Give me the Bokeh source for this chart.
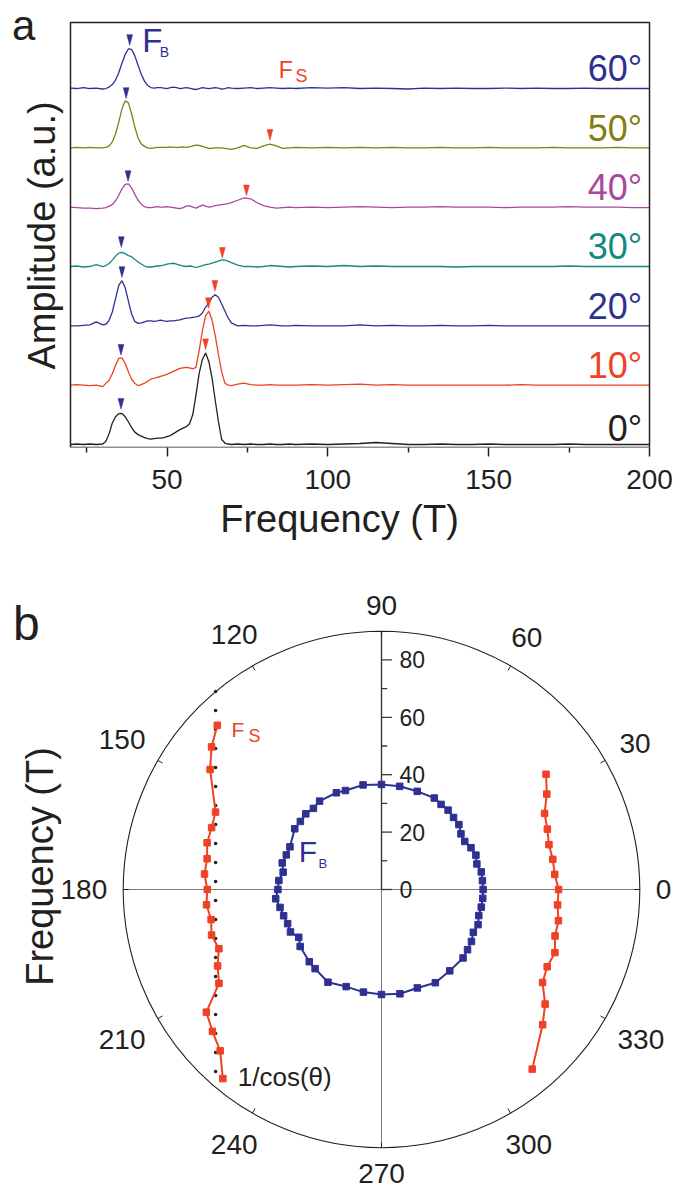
import math
from bokeh.plotting import figure
from bokeh.models import Range1d, FixedTicker, Label
from bokeh.layouts import column
from bokeh.embed import file_html
from bokeh.resources import INLINE

FONT = "Liberation Sans"
INK = "#231F20"
BLUE = "#2E3192"
RED = "#EF4123"

# ---------------- panel a data ----------------
FREQ = [20, 22, 24, 26, 28,
        30, 31, 32, 33, 34, 35, 36, 37, 38, 39,
        40, 41, 42, 43, 44, 45, 46, 47, 48, 49,
        50, 51, 52, 53, 54, 55, 56, 57, 58, 59,
        60, 61, 62, 63, 64, 65, 66, 67, 68, 69, 70,
        72, 74, 76, 78, 80, 82, 84, 86, 88, 90,
        95, 100, 105, 110, 115, 120, 125, 130, 135, 140, 145, 150, 155, 160, 165,
        170, 175, 180, 185, 190, 195, 200]

ANGLES_A = [0, 10, 20, 30, 40, 50, 60]
ANGLE_LABELS = ["0°", "10°", "20°", "30°", "40°", "50°", "60°"]

AMP_0 = [0, 0.5, 0, 0.5, 0,
         0.5, 3, 11, 21.7, 28, 31.2, 31.5, 28, 23, 17,
         12.5, 10, 8.5, 7, 6, 5.5, 6, 6.5, 6.5, 7,
         8, 9, 11, 13, 15, 16.5, 18, 21, 30, 50,
         72, 86, 92.5, 84, 67.5, 44.5, 23, 5, 1.5, 0.5, 0,
         0.5, 0, 0.5, 0, 0, 0.5, 0, 0, 0.5, 0,
         0.5, 0, 0.5, 1, 2, 1, 0, 0, 0.5, 0, 0, 0.5, 0, 0, 0, 0, 0.5, 0, 0, 0, 0, 0]
AMP_10 = [0, 0.5, 0, -0.5, 0,
          -1.5, 1.8, 5, 11.5, 20, 27, 27.7, 22, 13.5, 6,
          2, -0.5, 0.5, 2, 4, 6, 7, 8, 9, 10,
          11, 12.5, 14, 15.5, 17, 17.5, 18, 17.5, 16.5, 18,
          35, 55, 70, 75, 66, 50, 31, 13.5, 2, 0, -0.5,
          1, 2, 0.5, 0, 0, 0.5, 0, 0, 0, 0,
          0.5, 0, 0.5, 1, 0, 0.5, 0, 0, 0, 0, 0, 0, 0, 0.5, 0, 0, 0, 0, 0, 0, 0, 0]
AMP_20 = [0, 0, 0.5, 1, 4,
          1, 1.6, 5.6, 14, 27.5, 41, 45.7, 38.5, 25, 12,
          4.5, 2.5, 3, 4, 5, 5, 4.5, 5, 5.7, 5,
          4.5, 5, 5, 5.5, 6, 7, 7.7, 8, 8.5, 9,
          10, 13, 19, 23, 29, 31.5, 29, 22, 15, 8, 3,
          0, 0.5, 0, 0, 0.5, 1, 0.5, 0, 0, 0.5,
          0, 0, 0, 1, 0, 0.5, 0, 0, 0.5, 0, 0, 0.5, 0, 0, 0, 0, 0, 0, 0, 0, 0, 0]
AMP_30 = [0, 0.5, -0.5, 0, 2,
          0, 1, 3, 6.5, 10.5, 13.5, 14.3, 13, 11, 10,
          7, 4.5, 2.5, 0.5, -0.5, -0.5, 0, 0.5, 1, 1.5,
          2.5, 3, 3.3, 2.5, 1.5, 0.5, 0, 0.5, 0, -1,
          0, 1, 2, 2.5, 3.5, 4.5, 5.5, 6.7, 6.5, 5.5, 4,
          1.5, 0, 0, -0.5, 0, 1, 0.5, 0, -0.5, 0,
          0.5, 0, 1, 0, 0.5, 0, 0, 0, 0, -0.5, 0, 0, 0, 0, 0, 0, 0.5, 0, 0, 0, 0, 0]
AMP_40 = [0, -0.5, -1, -1, -1.5,
          -1, -0.5, 1, 2.5, 6.5, 12, 18.5, 23, 23.5, 19.5,
          13, 7, 3, 0.5, -0.5, -0.5, 0, 0.5, 0, 0,
          0.5, 0, -0.5, -1, -1.5, -0.5, 1, 1.5, 0, -1,
          0.5, 2, 1, 0, 0.5, 1.5, 2, 2.5, 3, 3.5, 4.5,
          7, 9.5, 8.5, 4.5, 1.5, 0, -1, -0.5, 0, -0.5,
          0, -0.5, 0, 0.5, 0, -0.5, 0, 0, 0.5, 0, 0, 0, -0.5, 0, 0, 0, 0.5, 0, 0, 0, -0.5, -0.5]
AMP_50 = [0, 0.5, 0, 0.5, 0,
          0, 0.5, 2, 6, 14, 26, 39.5, 47.5, 45.5, 34.5,
          21, 10, 4, 1.5, 0, -0.5, 0, 0.5, 0.5, 0.5,
          0.5, 1, 0.5, 0.5, 0.5, 1, 0.5, 1, 2, 2.7,
          2.5, 1.5, 0.5, -0.5, -0.5, 0, 0, 0, -0.5, -1, -1.5,
          0, 2.5, 0, -0.5, 2, 3.7, 2, -0.5, 0, 0.5,
          0, 0.5, 0, 0.5, 0, 0.5, 0, 0, 0.5, 0, 0, 0.5, 0, 0, 0, 0.5, 0, 0, 0, 0.5, 0, 0]
AMP_60 = [0.5, 0, 1, 0, 0.5,
          -0.5, 0, 1.5, 4, 8.5, 16, 25.5, 34.5, 40, 39.5,
          33, 23.5, 14.5, 7.5, 3, 1, 0.5, 1, 1, 0.5,
          0, 1, 1.5, 1, 0, 0.5, 1, 0.5, -0.5, -1,
          0, 1, 0.5, 0, 0.5, 1, 0.5, -0.5, 0, 1, 0.5,
          0, 0.5, 1, 0, 0.5, 1, 0.5, 0, 0.5, 0,
          1, 0.5, 1, 0, 0.5, 0, -0.5, 0.5, 0, 0.5, 0, 0, 0.5, 0, 0.5, 0, 0, 0.5, 0, 0, 0, 0]
AMPS = [AMP_0, AMP_10, AMP_20, AMP_30, AMP_40, AMP_50, AMP_60]
SPACING = 60  # a.u. offset between stacked spectra

FB_ARROW_FREQ = [35.7, 35.7, 36.0, 35.8, 37.9, 37.3, 38.4]
FB_ARROW_AMP = [35.6, 30.3, 49.0, 19.3, 26.0, 50.0, 43.7]
FS_ARROW_FREQ = [62.0, 62.9, 64.9, 67.2, 74.7, 82.0]   # 0..50 deg
FS_ARROW_AMP = [96.0, 77.6, 35.0, 8.5, 11.6, 7.7]

CURVE_COLORS = [INK, RED, BLUE, "#14897F", "#A8479F", "#7F7F14", BLUE]

X_MIN, X_MAX = 20, 200
X_TICKS = [50, 100, 150, 200]
X_MINOR = [25, 75, 125, 175]

# ---------------- panel b data ----------------
FB_ANGLE = [0, 5, 10, 15, 20, 25, 30, 35, 40, 45, 50, 55, 60, 70, 80, 90,
            100, 110, 115, 125, 130, 135, 140, 145, 155, 160, 165, 170, 175, 180,
            185, 190, 195, 200, 205, 210, 215, 225, 230, 240, 250, 260, 270,
            280, 290, 300, 310, 320, 325, 330, 335, 340, 345, 350, 355]
FB_FREQ = [35.4, 35.3, 35.3, 34.4, 35.0, 34.4, 33.5, 33.8, 35.2, 35.5, 36.1, 36.2, 36.8, 36.4, 36.5, 36.6,
           37.0, 36.7, 37.2, 37.6, 36.9, 37.3, 36.9, 36.9, 35.2, 35.3, 35.8, 34.8, 35.9, 36.1,
           37.0, 35.9, 35.3, 34.8, 35.0, 33.3, 34.6, 35.6, 36.0, 37.3, 36.0, 36.3, 36.6,
           36.9, 36.5, 37.5, 37.0, 37.1, 36.6, 36.2, 35.3, 35.8, 35.1, 35.3, 35.4]

FS_RIGHT_ANGLE = [35, 30, 25, 20, 15, 10, 5, 0, -5, -10, -15, -20, -25, -30, -35, -40, -50]
FS_RIGHT_FREQ = [70.0, 66.5, 62.7, 61.5, 60.4, 60.6, 60.6, 61.7, 61.6, 62.6, 62.6, 64.3, 63.7, 64.8, 69.6, 73.3, 81.7]
FS_LEFT_ANGLE = [135, 140, 145, 155, 160, 165, 170, 175, 180, 185, 190, 195, 200, 205, 210, 215, 220, 225, 230]
FS_LEFT_FREQ = [80.9, 77.3, 72.9, 63.8, 63.0, 62.9, 61.7, 61.9, 60.7, 61.2, 60.3, 61.3, 60.3, 63.0, 65.4, 74.5, 76.9, 79.5, 86.0]

COS_F0 = 57.8          # 1/cos(theta) reference frequency
R_MAX = 90
RAD_MAJOR = [0, 20, 40, 60, 80]
RAD_MINOR = [10, 30, 50, 70]
ANG_TICKS = [0, 30, 60, 90, 120, 150, 180, 210, 240, 270, 300, 330]

# ================= panel a =================
W = 678
HA = 560
PX_T = 579 / 180.0        # pixels per tesla
PX_AU = 59.33 / 60.0      # pixels per a.u.
BASE_PX = 444             # page y of the 0 deg baseline


def ax(px):
    return X_MIN + (px - 70) / PX_T


def ay(py):
    return (BASE_PX - py) / PX_AU


pa = figure(width=W, height=HA, x_range=Range1d(ax(0), ax(W)), y_range=Range1d(ay(447), ay(0)),
            output_backend="svg", toolbar_location=None, y_axis_location=None,
            min_border_left=0, min_border_right=0, min_border_top=0, min_border_bottom=HA - 447)
pa.grid.visible = False
pa.outline_line_color = None

for i, ang in enumerate(ANGLES_A):
    off = i * SPACING
    pa.line(FREQ, [a + off for a in AMPS[i]], line_color=CURVE_COLORS[i], line_width=1.3)
    lift = 16.5 if ang == 0 else 19.8
    pa.add_layout(Label(x=ax(641.7), y=off + lift / PX_AU, text=ANGLE_LABELS[i], text_align="right",
                        text_baseline="middle", text_font=FONT, text_font_size="36px",
                        text_color=CURVE_COLORS[i]))

# frame box
pa.quad(left=[X_MIN], right=[X_MAX], bottom=[ay(447)], top=[ay(22)], fill_color=None,
        line_color="#222222", line_width=1.5)

HW, AH = 0.9, 10.8
fbx = [[f - HW, f + HW, f] for f in FB_ARROW_FREQ]
fby = [[a + i * SPACING + AH, a + i * SPACING + AH, a + i * SPACING] for i, a in enumerate(FB_ARROW_AMP)]
pa.patches(fbx, fby, fill_color=BLUE, line_color=BLUE, line_width=0.5)
fsx = [[f - HW, f + HW, f] for f in FS_ARROW_FREQ]
fsy = [[a + i * SPACING + AH, a + i * SPACING + AH, a + i * SPACING] for i, a in enumerate(FS_ARROW_AMP)]
pa.patches(fsx, fsy, fill_color=RED, line_color=RED, line_width=0.5)


def lab_a(px, py, text, size, color, **kw):
    pa.add_layout(Label(x=ax(px), y=ay(py), text=text, text_font=FONT, text_font_size=size,
                        text_color=color, text_baseline="middle", **kw))


lab_a(141.7, 40.3, "F", "33px", BLUE)
lab_a(159.3, 51.0, "B", "14px", BLUE)
lab_a(278.3, 69.3, "F", "23px", RED)
lab_a(295.0, 75.8, "S", "18px", RED)
lab_a(11.5, 25.0, "a", "42px", INK)
lab_a(41.5, 235.0, "Amplitude (a.u.)", "38px", INK, angle=math.pi / 2, text_align="center")

xa = pa.xaxis[0]
xa.ticker = FixedTicker(ticks=X_TICKS, minor_ticks=X_MINOR)
xa.axis_line_color = None
xa.major_tick_in = 0
xa.major_tick_out = 9
xa.minor_tick_in = 0
xa.minor_tick_out = 5
xa.major_tick_line_width = 1.5
xa.minor_tick_line_width = 1.5
xa.major_tick_line_color = "#222222"
xa.minor_tick_line_color = "#222222"
xa.major_label_text_font = FONT
xa.major_label_text_font_size = "28px"
xa.major_label_text_color = INK
xa.major_label_standoff = 13
xa.axis_label = "Frequency (T)"
xa.axis_label_text_font = FONT
xa.axis_label_text_font_size = "38px"
xa.axis_label_text_font_style = "normal"
xa.axis_label_text_color = INK
xa.axis_label_standoff = 6

# ================= panel b =================
PXU = 2.87
HB = 1192 - HA
CX, CY = 381, 889      # page coordinates of the polar centre


def bx(px):
    return (px - CX) / PXU


def by(py):
    return (CY - py) / PXU


pb = figure(width=W, height=HB, x_range=Range1d(bx(0), bx(W)), y_range=Range1d(by(1192), by(HA)),
            output_backend="svg", toolbar_location=None, min_border=0,
            x_axis_location=None, y_axis_location=None)
pb.outline_line_color = None
pb.grid.visible = False

pb.circle(x=[0], y=[0], radius=R_MAX, fill_color=None, line_color=INK, line_width=1.1)
pb.segment(x0=[-R_MAX, 0], y0=[0, -R_MAX], x1=[R_MAX, 0], y1=[0, 0], line_color="#7a7a7a", line_width=1)
pb.segment(x0=[0], y0=[0], x1=[0], y1=[R_MAX], line_color="#3a3a3a", line_width=1.4)
pb.segment(x0=[0] * len(RAD_MAJOR), y0=RAD_MAJOR, x1=[3.7] * len(RAD_MAJOR), y1=RAD_MAJOR,
           line_color="#3a3a3a", line_width=1.3)
pb.segment(x0=[0] * len(RAD_MINOR), y0=RAD_MINOR, x1=[2.0] * len(RAD_MINOR), y1=RAD_MINOR,
           line_color="#3a3a3a", line_width=1.3)
for r in RAD_MAJOR:
    pb.add_layout(Label(x=6.3, y=r, text=str(r), text_align="left", text_baseline="middle",
                        text_font=FONT, text_font_size="23px", text_color=INK))

tx0, ty0, tx1, ty1 = [], [], [], []
for a in ANG_TICKS:
    c, s = math.cos(math.radians(a)), math.sin(math.radians(a))
    tx0.append(R_MAX * c); ty0.append(R_MAX * s)
    tx1.append((R_MAX - 1.9) * c); ty1.append((R_MAX - 1.9) * s)
pb.segment(x0=tx0, y0=ty0, x1=tx1, y1=ty1, line_color=INK, line_width=1)

for a in ANG_TICKS:
    txt = str(a)
    c, s = math.cos(math.radians(a)), math.sin(math.radians(a))
    w = 0.556 * 28 * len(txt)
    ext = abs(c) * w / 2 + abs(s) * 10
    rl = R_MAX + (16 + ext) / PXU
    pb.add_layout(Label(x=rl * c, y=rl * s, text=txt, text_align="center", text_baseline="middle",
                        text_font=FONT, text_font_size="28px", text_color=INK))


def polar_xy(angles, radii, close=False):
    xs = [r * math.cos(math.radians(a)) for a, r in zip(angles, radii)]
    ys = [r * math.sin(math.radians(a)) for a, r in zip(angles, radii)]
    if close:
        xs.append(xs[0]); ys.append(ys[0])
    return xs, ys


# 1/cos(theta) dotted reference
th = math.acos(COS_F0 / R_MAX)
pb.line([-COS_F0, -COS_F0], [COS_F0 * math.tan(th), -COS_F0 * math.tan(th)],
        line_color=INK, line_width=3.6, line_dash="0 19", line_cap="round")

x, y = polar_xy(FB_ANGLE, FB_FREQ, close=True)
pb.line(x, y, line_color=BLUE, line_width=2)
pb.scatter(x[:-1], y[:-1], marker="square", size=6.5, fill_color=BLUE, line_color=BLUE)

for angs, rads in [(FS_RIGHT_ANGLE, FS_RIGHT_FREQ), (FS_LEFT_ANGLE, FS_LEFT_FREQ)]:
    x, y = polar_xy(angs, rads)
    pb.line(x, y, line_color=RED, line_width=2)
    pb.scatter(x, y, marker="square", size=6.5, fill_color=RED, line_color=RED)


def lab_b(px, py, text, size, color, **kw):
    pb.add_layout(Label(x=bx(px), y=by(py), text=text, text_font=FONT, text_font_size=size,
                        text_color=color, text_baseline="middle", **kw))


lab_b(231.0, 729.2, "F", "21px", RED)
lab_b(248.0, 735.3, "S", "18px", RED)
lab_b(298.3, 850.9, "F", "30px", BLUE)
lab_b(318.0, 862.5, "B", "13px", BLUE)
lab_b(237.3, 1076.0, "1/cos(θ)", "26px", INK)
lab_b(12.5, 623.0, "b", "48px", INK)
lab_b(39.7, 866.0, "Frequency (T)", "38px", INK, angle=math.pi / 2, text_align="center")

layout = column(pa, pb, spacing=0)
open("out.html", "w").write(file_html(layout, INLINE))
